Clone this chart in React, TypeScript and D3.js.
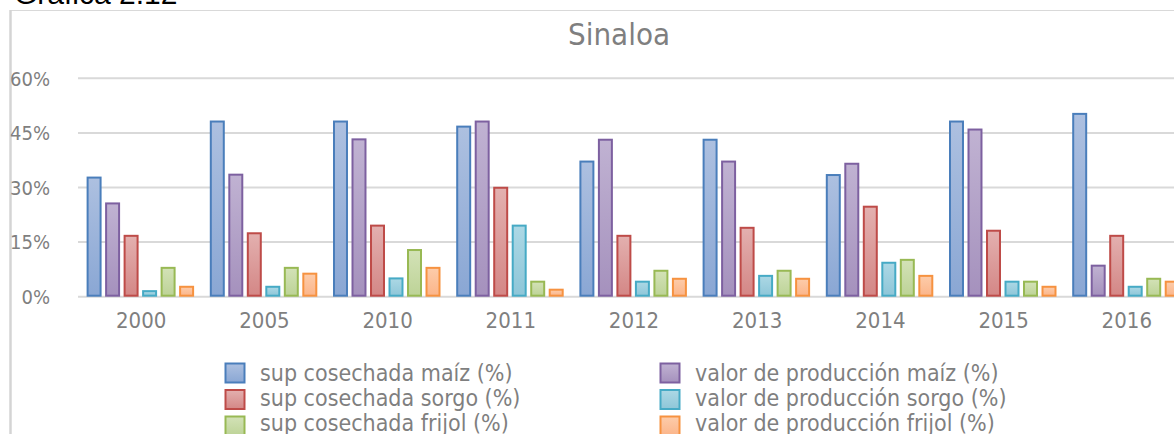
import React from 'react';
import * as d3 from 'd3';

// values (percent)
const years = ['2000', '2005', '2010', '2011', '2012', '2013', '2014', '2015', '2016'];
const supMaiz = [33.0, 48.4, 48.4, 47.0, 37.4, 43.4, 33.7, 48.4, 50.5];
const valorMaiz = [25.9, 33.8, 43.5, 48.4, 43.4, 37.4, 36.8, 46.2, 8.8];
const supSorgo = [17.0, 17.7, 19.8, 30.2, 17.0, 19.2, 25.0, 18.4, 17.0];
const valorSorgo = [1.8, 3.0, 5.3, 19.8, 4.4, 6.0, 9.6, 4.4, 3.0];
const supFrijol = [8.2, 8.2, 13.1, 4.4, 7.4, 7.4, 10.4, 4.4, 5.2];
const valorFrijol = [3.0, 6.6, 8.2, 2.2, 5.2, 5.2, 6.0, 3.0, 4.4];
const yTicks = [0, 15, 30, 45, 60];

const series = [
  { key: 'supMaiz', label: 'sup cosechada maíz (%)', values: supMaiz, stroke: '#4a7ebb', top: '#adc0e0', bottom: '#8aa7d4' },
  { key: 'valorMaiz', label: 'valor de producción maíz (%)', values: valorMaiz, stroke: '#7d60a0', top: '#c0b2d2', bottom: '#a591bd' },
  { key: 'supSorgo', label: 'sup cosechada sorgo (%)', values: supSorgo, stroke: '#be4b48', top: '#e3b0af', bottom: '#d48786' },
  { key: 'valorSorgo', label: 'valor de producción sorgo (%)', values: valorSorgo, stroke: '#46aac5', top: '#acd8e5', bottom: '#8ec6d8' },
  { key: 'supFrijol', label: 'sup cosechada frijol (%)', values: supFrijol, stroke: '#98b954', top: '#d3e2b7', bottom: '#bdd397' },
  { key: 'valorFrijol', label: 'valor de producción frijol (%)', values: valorFrijol, stroke: '#f69240', top: '#fdccaa', bottom: '#fbb58a' },
];

// legend is laid out in two columns: sup on the left, valor on the right
const legendLeft = ['supMaiz', 'supSorgo', 'supFrijol'];
const legendRight = ['valorMaiz', 'valorSorgo', 'valorFrijol'];

const W = 1174;
const H = 434;
const FONT = "'DejaVu Sans Condensed', 'DejaVu Sans', sans-serif";
const GREY = '#7f7f7f';

const App: React.FC = () => {
  const x0 = d3.scaleBand<string>()
    .domain(years)
    .range([79.6, 79.6 + 123.2 * years.length]);

  const x1 = d3.scaleBand<string>()
    .domain(series.map(s => s.key))
    .range([7, 114.5])
    .paddingInner(0.19);

  const y = d3.scaleLinear()
    .domain([0, 60])
    .range([296.7, 78.3]);

  const bw = x1.bandwidth();

  return (
    <svg
      width={W}
      height={H}
      style={{ position: 'absolute', left: 0, top: 0, background: '#fff' }}
    >
      <defs>
        {series.map(s => (
          <linearGradient key={s.key} id={`g-${s.key}`} x1="0" y1="0" x2="0" y2="1">
            <stop offset="0%" stopColor={s.top} />
            <stop offset="100%" stopColor={s.bottom} />
          </linearGradient>
        ))}
      </defs>

      {/* page heading, mostly cut off at the top */}
      <text x={14} y={4} fontSize={30} fontFamily="'Liberation Sans', Arial, sans-serif" fill="#000">
        Gráfica 2.12
      </text>

      {/* chart frame */}
      <line x1={10} x2={W} y1={10.5} y2={10.5} stroke="#d9d9d9" strokeWidth={1} />
      <line x1={10.5} x2={10.5} y1={10} y2={H} stroke="#d4d4d4" strokeWidth={2.5} />

      <text x={619} y={45} textAnchor="middle" fontSize={31} fontFamily={FONT} fill={GREY}>
        Sinaloa
      </text>

      {/* gridlines */}
      {yTicks.map(t => (
        <g key={t}>
          <line x1={78} x2={W + 20} y1={y(t)} y2={y(t)} stroke="#d9d9d9" strokeWidth={2} />
          <text
            x={50}
            y={y(t)}
            dy="0.36em"
            textAnchor="end"
            fontSize={20}
            fontFamily={FONT}
            fill={GREY}
          >
            {`${t}%`}
          </text>
        </g>
      ))}

      {/* bars */}
      {years.map((yr, i) => (
        <g key={yr} transform={`translate(${x0(yr)},0)`}>
          {series.map(s => {
            const v = s.values[i];
            const top = y(v);
            return (
              <rect
                key={s.key}
                x={(x1(s.key) || 0) + 1}
                y={top + 1}
                width={bw - 2}
                height={Math.max(0, y(0) - top - 2)}
                fill={`url(#g-${s.key})`}
                stroke={s.stroke}
                strokeWidth={2}
              />
            );
          })}
          <text
            x={x0.bandwidth() / 2}
            y={328}
            textAnchor="middle"
            fontSize={22}
            fontFamily={FONT}
            fill={GREY}
          >
            {yr}
          </text>
        </g>
      ))}

      {/* legend */}
      {[legendLeft, legendRight].map((col, c) => (
        <g key={c}>
          {col.map((k, r) => {
            const s = series.find(d => d.key === k)!;
            const sx = c === 0 ? 224.5 : 659.5;
            const tx = c === 0 ? 260 : 695;
            return (
              <g key={k}>
                <rect
                  x={sx + 1}
                  y={362.5 + r * 26.5 + 1}
                  width={19}
                  height={19}
                  fill={`url(#g-${k})`}
                  stroke={s.stroke}
                  strokeWidth={2}
                />
                <text x={tx} y={381 + r * 25} fontSize={23} fontFamily={FONT} fill={GREY}>
                  {s.label}
                </text>
              </g>
            );
          })}
        </g>
      ))}
    </svg>
  );
};

export default App;
